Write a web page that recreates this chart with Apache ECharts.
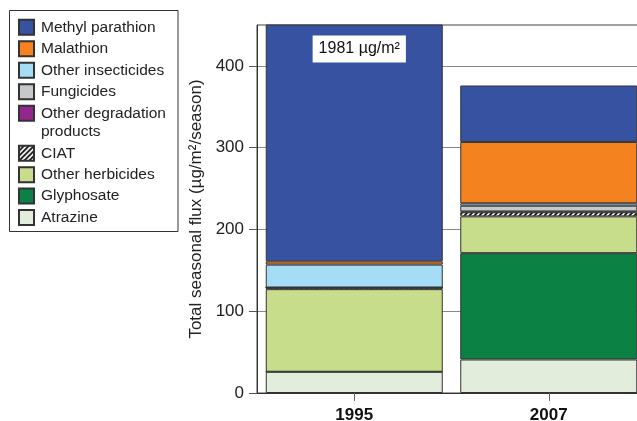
<!DOCTYPE html>
<html>
<head>
<meta charset="utf-8">
<script src="https://cdn.jsdelivr.net/npm/echarts@6/dist/echarts.min.js"></script>
<style>
  html, body { margin: 0; padding: 0; background: #fff; }
  #chart { width: 637px; height: 421px; }
</style>
</head>
<body>
<div id="chart"></div>
<script>
// Seasonal pesticide flux, stacked from the bottom segment upward
const years = ['1995', '2007'];
const seriesNames = [
  'Atrazine', 'Glyphosate', 'Other herbicides', 'CIAT',
  'Other degradation products', 'Fungicides', 'Other insecticides',
  'Malathion', 'Methyl parathion'
];
const atrazine = [26, 41];
const glyphosate = [0, 130];
const otherHerbicides = [101, 45];
const ciat = [2, 5];
const otherDegradation = [0, 1];
const fungicides = [0, 7];
const otherInsecticides = [28, 3];
const malathion = [4, 75];
const methylParathion = [1820, 69];
const yTicks = [0, 100, 200, 300, 400];
const yMax = 450;

const values = [atrazine, glyphosate, otherHerbicides, ciat, otherDegradation,
  fungicides, otherInsecticides, malathion, methylParathion];

const FONT = '"Liberation Sans", Arial, Helvetica, sans-serif';

// diagonal black/white hatching for CIAT
function hatchPattern() {
  const c = document.createElement('canvas');
  c.width = 5; c.height = 5;
  const g = c.getContext('2d');
  g.fillStyle = '#ffffff';
  g.fillRect(0, 0, 5, 5);
  g.strokeStyle = '#111111';
  g.lineWidth = 1.8;
  g.beginPath();
  g.moveTo(-1, 6); g.lineTo(6, -1);
  g.moveTo(-1, 1); g.lineTo(1, -1);
  g.moveTo(4, 6); g.lineTo(6, 4);
  g.stroke();
  return { image: c, repeat: 'repeat' };
}

const colors = {
  'Atrazine': '#e2eedb',
  'Glyphosate': '#0b8143',
  'Other herbicides': '#c8dd8c',
  'CIAT': hatchPattern(),
  'Other degradation products': '#93278f',
  'Fungicides': '#c7c8ca',
  'Other insecticides': '#a6ddf6',
  'Malathion': '#f4821f',
  'Methyl parathion': '#3852a2'
};

// total for the tallest column, printed on its clipped top segment
const total1995 = values.reduce((s, arr) => s + arr[0], 0);

const series = seriesNames.map((name, i) => {
  let data = values[i].slice();
  if (name === 'Methyl parathion') {
    data = data.map((v, j) => j === 0 ? {
      value: v,
      label: {
        show: true,
        position: 'insideTop',
        distance: 11,
        offset: [5, 0],
        formatter: total1995 + ' µg/m²',
        backgroundColor: '#ffffff',
        padding: [5, 6, 5, 6],
        lineHeight: 17,
        fontSize: 16,
        fontFamily: FONT,
        color: '#111'
      }
    } : v);
  }
  return {
    name,
    type: 'bar',
    stack: 'flux',
    barWidth: 177,
    data,
    itemStyle: { color: colors[name], borderColor: '#333', borderWidth: 1 },
    emphasis: { disabled: true }
  };
});

// legend runs top-down, opposite to the stacking order
const legendOrder = seriesNames.slice().reverse();
const legendText = { fontSize: 15.5, lineHeight: 18, color: '#222', fontFamily: FONT, padding: [0, 0, 0, 2] };
const legendBase = {
  orient: 'vertical', left: 18, padding: 0,
  itemWidth: 15, itemHeight: 15, icon: 'rect',
  selectedMode: false, textStyle: legendText
};

const chart = echarts.init(document.getElementById('chart'), null, { renderer: 'canvas' });
chart.setOption({
  animation: false,
  backgroundColor: '#ffffff',
  grid: {
    left: 257, top: 25, bottom: 28, width: 389,
    outerBoundsMode: 'none',
    containLabel: false,
    show: true, borderColor: '#444', borderWidth: 1
  },
  legend: [
    Object.assign({}, legendBase, { top: 18.3, itemGap: 3.5, data: legendOrder.slice(0, 4) }),
    // two-line entry: the swatch sits beside the first line
    Object.assign({}, legendBase, {
      top: 104.3, itemHeight: 33,
      icon: 'path://M0,0H15V15H0Z M0,33L0,33',
      data: [legendOrder[4]],
      formatter: n => n.replace(' products', '\nproducts')
    }),
    Object.assign({}, legendBase, { top: 144.3, itemGap: 3.4, data: legendOrder.slice(5) })
  ],
  graphic: [{
    type: 'rect',
    silent: true,
    shape: { x: 9.5, y: 10.5, width: 168.5, height: 221 },
    style: { fill: 'none', stroke: '#333', lineWidth: 1 }
  }],
  xAxis: {
    type: 'category',
    data: years,
    axisLine: { show: true, lineStyle: { color: '#333', width: 1 } },
    axisTick: { show: true, alignWithLabel: true, length: 8, lineStyle: { color: '#666' } },
    axisLabel: { fontSize: 17, fontWeight: 'bold', color: '#111', margin: 14, fontFamily: FONT }
  },
  yAxis: {
    type: 'value',
    min: 0, max: yMax, interval: 100,
    name: 'Total seasonal flux (µg/m²/season)',
    nameLocation: 'middle',
    nameGap: 45,
    nameRotate: 90,
    nameTextStyle: { fontSize: 17, color: '#222', fontFamily: FONT },
    axisLine: { show: true, lineStyle: { color: '#333', width: 1 } },
    axisTick: { show: true, length: 8, lineStyle: { color: '#555' }, customValues: yTicks },
    axisLabel: { fontSize: 17, color: '#222', margin: 13, fontFamily: FONT, customValues: yTicks },
    splitLine: { show: true, lineStyle: { color: '#888', width: 1 } }
  },
  series
});
</script>
</body>
</html>
